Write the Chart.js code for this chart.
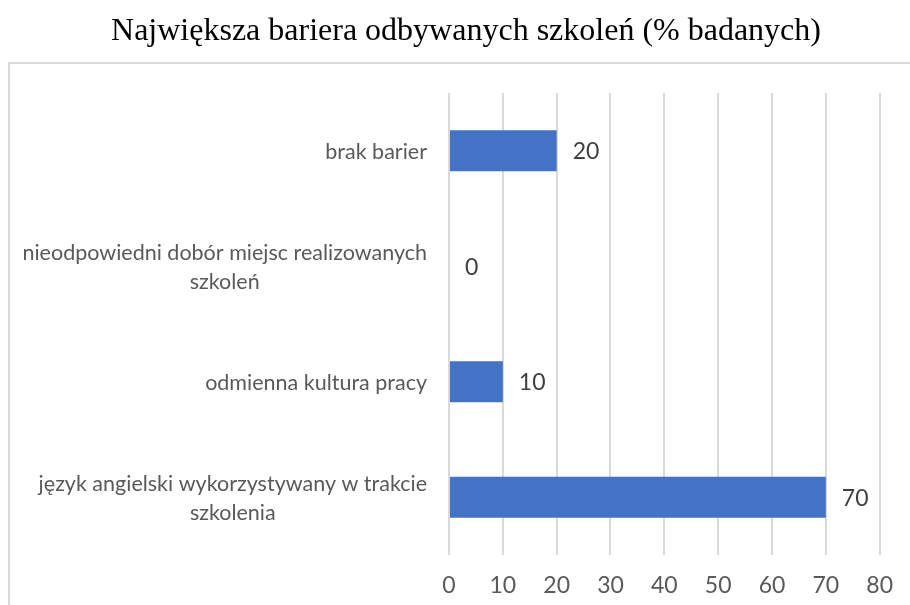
<!DOCTYPE html>
<html>
<head>
<meta charset="utf-8">
<script src="https://cdn.jsdelivr.net/npm/chart.js@4.4.1/dist/chart.umd.min.js"></script>
<style>
  html, body { margin: 0; padding: 0; background: #fff; overflow: hidden; }
  #wrap { width: 910px; height: 605px; }
</style>
</head>
<body>
<div id="wrap"><canvas id="barChart" width="910" height="605"></canvas></div>
<script>
// data (top to bottom as drawn)
const categories = [
    ['brak barier'],
    ['nieodpowiedni dobór miejsc realizowanych', 'szkoleń'],
    ['odmienna kultura pracy'],
    ['język angielski wykorzystywany w trakcie', 'szkolenia']
];
const values = [20, 0, 10, 70];
const xTicks = [0, 10, 20, 30, 40, 50, 60, 70, 80];

const labelFont = 'Lato, "Noto Sans", sans-serif';

// light grey frame round the plot, like the Excel chart area
const framePlugin = {
    id: 'frame',
    beforeDraw(chart) {
        const ctx = chart.ctx;
        ctx.save();
        ctx.strokeStyle = '#d9d9d9';
        ctx.lineWidth = 2;
        ctx.strokeRect(9, 63, 1000, 600);
        ctx.restore();
    }
};

// category labels: right aligned block, extra lines centred under the first
const catLabelPlugin = {
    id: 'catLabels',
    afterDraw(chart) {
        const ctx = chart.ctx;
        const y = chart.scales.y;
        const right = chart.chartArea.left - 22;
        const lh = 29;
        ctx.save();
        ctx.font = '21.5px ' + labelFont;
        ctx.fillStyle = '#595959';
        ctx.textAlign = 'center';
        ctx.textBaseline = 'middle';
        categories.forEach((lines, i) => {
            const widest = Math.max(...lines.map(l => ctx.measureText(l).width));
            const cx = right - widest / 2;
            const cy = y.getPixelForTick(i) + 1;
            lines.forEach((l, k) => {
                ctx.fillText(l, cx, cy + (k - (lines.length - 1) / 2) * lh);
            });
        });
        ctx.restore();
    }
};

// value labels to the right of each bar
const valueLabelPlugin = {
    id: 'valueLabels',
    afterDatasetsDraw(chart) {
        const ctx = chart.ctx;
        const meta = chart.getDatasetMeta(0);
        ctx.save();
        ctx.font = '23px ' + labelFont;
        ctx.fillStyle = '#404040';
        ctx.textAlign = 'left';
        ctx.textBaseline = 'middle';
        meta.data.forEach((bar, i) => {
            ctx.fillText(String(values[i]), bar.x + 16, bar.y + 1);
        });
        ctx.restore();
    }
};

new Chart(document.getElementById('barChart').getContext('2d'), {
    type: 'bar',
    data: {
        labels: categories,
        datasets: [{
            data: values,
            backgroundColor: '#4472C4',
            borderWidth: 0,
            categoryPercentage: 1,
            barPercentage: 0.355
        }]
    },
    options: {
        indexAxis: 'y',
        responsive: false,
        animation: false,
        layout: { padding: { left: 49, right: 27, top: 0, bottom: 0 } },
        plugins: {
            legend: { display: false },
            tooltip: { enabled: false },
            title: {
                display: true,
                text: 'Największa bariera odbywanych szkoleń (% badanych)',
                color: '#000',
                font: { family: '"Liberation Serif", "DejaVu Serif", serif', size: 32, weight: 'normal', lineHeight: 1.2 },
                padding: { top: 12, bottom: 42.6 }
            }
        },
        scales: {
            x: {
                min: 0,
                max: 80,
                afterBuildTicks(scale) {
                    scale.ticks = xTicks.map(v => ({ value: v }));
                },
                grid: { color: '#d9d9d9', lineWidth: 2, drawTicks: false },
                border: { display: false },
                ticks: {
                    color: '#595959',
                    padding: 17,
                    font: { family: labelFont, size: 23, lineHeight: 1.2 }
                },
                afterFit(scale) {
                    scale.height = 50;
                }
            },
            y: {
                grid: { display: false },
                border: { display: false },
                ticks: { display: false },
                afterFit(scale) {
                    scale.width = 400;
                }
            }
        }
    },
    plugins: [framePlugin, catLabelPlugin, valueLabelPlugin]
});
</script>
</body>
</html>
